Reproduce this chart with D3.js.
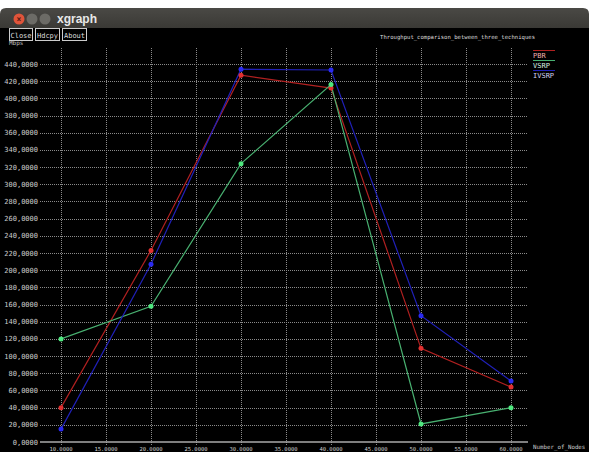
<!DOCTYPE html>
<html>
<head>
<meta charset="utf-8">
<script src="https://cdn.jsdelivr.net/npm/d3@7"></script>
<style>
  html, body { margin: 0; padding: 0; background: #fff; overflow: hidden; }
  svg { display: block; }
</style>
</head>
<body>
<div id="chart"></div>
<script>
// node counts on the x axis
const nodes = [10, 20, 30, 40, 50, 60];

// throughput per technique
const pbr = [40, 223, 427, 412, 109, 64];
const vsrp = [120, 158, 324, 416, 21, 40];
const ivsrp = [15, 207, 434, 433, 147, 71];

const seriesNames = ['PBR', 'VSRP', 'IVSRP'];
const xTicks = [10, 15, 20, 25, 30, 35, 40, 45, 50, 55, 60];
const yTicks = d3.range(0, 441, 20);

const W = 589, H = 452;

const svg = d3.select('#chart').append('svg')
  .attr('width', W)
  .attr('height', H)
  .style('font-family', 'DejaVu Sans Mono, monospace');

// window frame
svg.append('rect').attr('x', 0).attr('y', 0).attr('width', W).attr('height', H).attr('fill', '#fff');
const grad = svg.append('defs').append('linearGradient')
  .attr('id', 'tb').attr('x1', 0).attr('x2', 0).attr('y1', 0).attr('y2', 1);
grad.append('stop').attr('offset', '0%').attr('stop-color', '#4a4945');
grad.append('stop').attr('offset', '100%').attr('stop-color', '#3a3935');
svg.append('path')
  .attr('d', `M0,28 L0,14 Q0,8 6,8 L${W - 6},8 Q${W},8 ${W},14 L${W},28 Z`)
  .attr('fill', 'url(#tb)');
svg.append('rect').attr('x', 0).attr('y', 28).attr('width', W).attr('height', H - 28).attr('fill', '#000');

// title bar buttons
svg.append('circle').attr('cx', 19).attr('cy', 19).attr('r', 5.5).attr('fill', '#e0543a');
svg.append('text').attr('x', 19).attr('y', 21.5).attr('text-anchor', 'middle')
  .attr('fill', '#5a1a10').style('font-size', '8px').style('font-weight', 'bold').text('×');
svg.append('circle').attr('cx', 32).attr('cy', 19).attr('r', 5.5).attr('fill', '#6c6b66');
svg.append('circle').attr('cx', 45).attr('cy', 19).attr('r', 5.5).attr('fill', '#6c6b66');
svg.append('text').attr('x', 57).attr('y', 23)
  .attr('fill', '#e8e8e8')
  .style('font-family', 'Liberation Sans, Arial, sans-serif')
  .style('font-size', '12px').style('font-weight', 'bold')
  .text('xgraph');

// xgraph buttons
const btns = [['Close', 9, 23], ['Hdcpy', 35, 24], ['About', 62, 24]];
btns.forEach(([t, x, w]) => {
  svg.append('rect').attr('x', x + 0.5).attr('y', 28.5).attr('width', w).attr('height', 12)
    .attr('fill', '#000').attr('stroke', '#ccc').attr('stroke-width', 1);
  svg.append('text').attr('x', x + w / 2 + 0.5).attr('y', 37.5)
    .attr('text-anchor', 'middle').attr('fill', '#ddd')
    .style('font-size', '7px').text(t);
});

svg.append('text').attr('x', 9).attr('y', 45).attr('fill', '#bbb')
  .style('font-size', '6px').text('Mbps');

svg.append('text').attr('x', 535).attr('y', 39).attr('text-anchor', 'end')
  .attr('fill', '#ddd').style('font-size', '5.6px')
  .text('Throughput_comparison_between_three_techniques');

// scales
const x = d3.scaleLinear().domain([10, 60]).range([61, 511]);
const y = d3.scaleLinear().domain([0, 440]).range([442, 64]);

// grid lines
const grid = svg.append('g');
grid.selectAll('line.h')
  .data(yTicks.filter(d => d > 0))
  .join('line')
  .attr('x1', 40).attr('x2', 528)
  .attr('y1', d => Math.round(y(d)) + 0.5).attr('y2', d => Math.round(y(d)) + 0.5)
  .attr('stroke', '#8a8a8a').attr('stroke-width', 1).attr('stroke-dasharray', '1,1');
grid.selectAll('line.v')
  .data(xTicks)
  .join('line')
  .attr('x1', d => Math.round(x(d)) + 0.5).attr('x2', d => Math.round(x(d)) + 0.5)
  .attr('y1', 48).attr('y2', 446)
  .attr('stroke', '#8a8a8a').attr('stroke-width', 1).attr('stroke-dasharray', '1,1');

// base line
svg.append('line').attr('x1', 40).attr('x2', 528)
  .attr('y1', y(0)).attr('y2', y(0))
  .attr('stroke', '#aaa').attr('stroke-width', 1.5);

// y labels
svg.append('g').selectAll('text')
  .data(yTicks)
  .join('text')
  .attr('x', 38).attr('y', d => y(d) + 2.5)
  .attr('text-anchor', 'end').attr('fill', '#ccc')
  .style('font-size', '7px')
  .text(d => d + ',0000');

// x labels
svg.append('g').selectAll('text')
  .data(xTicks)
  .join('text')
  .attr('x', d => x(d)).attr('y', 451)
  .attr('text-anchor', 'middle').attr('fill', '#ccc')
  .style('font-size', '5.5px')
  .text(d => d + '.0000');

svg.append('text').attr('x', 533).attr('y', 449).attr('fill', '#ccc')
  .style('font-size', '5.8px').text('Number_of_Nodes');

// series
const series = [
  { name: seriesNames[0], values: pbr, line: '#b02020', dot: '#e03030', text: '#f0b0b0' },
  { name: seriesNames[1], values: vsrp, line: '#48b070', dot: '#50e880', text: '#d8f0e0' },
  { name: seriesNames[2], values: ivsrp, line: '#2020b8', dot: '#2a2af0', text: '#d0d0f0' }
];

const line = d3.line()
  .x((d, i) => x(nodes[i]))
  .y(d => y(d));

series.forEach(s => {
  svg.append('path')
    .datum(s.values)
    .attr('d', line)
    .attr('fill', 'none')
    .attr('stroke', s.line)
    .attr('stroke-width', 1.2);
});
series.forEach(s => {
  svg.append('g').selectAll('circle')
    .data(s.values)
    .join('circle')
    .attr('cx', (d, i) => x(nodes[i]))
    .attr('cy', d => y(d))
    .attr('r', 2.5)
    .attr('fill', s.dot);
});

// legend
series.forEach((s, i) => {
  const ly = 56 + i * 10;
  svg.append('text').attr('x', 533).attr('y', ly + 2)
    .attr('fill', s.text).style('font-size', '7px').text(s.name);
  svg.append('line').attr('x1', 533).attr('x2', 555)
    .attr('y1', ly - 5.5).attr('y2', ly - 5.5)
    .attr('stroke', s.line).attr('stroke-width', 1);
});
</script>
</body>
</html>
